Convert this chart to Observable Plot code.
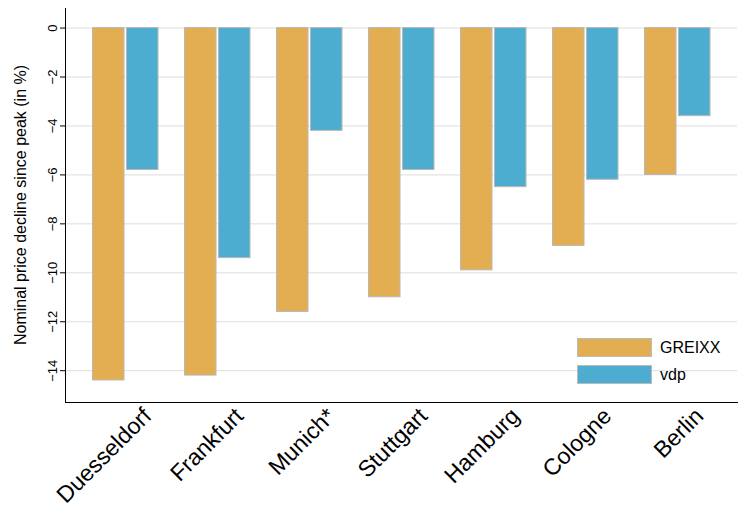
<!DOCTYPE html>
<html><head><meta charset="utf-8">
<script src="https://cdn.jsdelivr.net/npm/d3@7"></script>
<script src="https://cdn.jsdelivr.net/npm/@observablehq/plot@0.6"></script>
<style>
body{margin:0;background:#fff;font-family:"Liberation Sans",Arial,sans-serif}
#wrap{position:relative;width:745px;height:522px}
.lg{position:absolute;left:577px;font-size:16px;display:flex;align-items:center}
.lg span{display:inline-block;width:75px;height:19px;margin-right:8px;box-sizing:border-box;border:1px solid #bbb}
</style></head><body>
<div id="wrap"></div>
<script>
const cities = ["Duesseldorf","Frankfurt","Munich*","Stuttgart","Hamburg","Cologne","Berlin"];
const series = ["GREIXX","vdp"];
const greixx = [-14.4,-14.2,-11.6,-11.0,-9.9,-8.9,-6.0];
const vdp = [-5.8,-9.4,-4.2,-5.8,-6.5,-6.2,-3.6];
const colors = ["#e3ad52","#4cadd0"];
const yTicks = [0,-2,-4,-6,-8,-10,-12,-14];

const gData = cities.map((c,i)=>({city:c, value:greixx[i]}));
const vData = cities.map((c,i)=>({city:c, value:vdp[i]}));
const half = 34;

const chart = Plot.plot({
  width:745, height:522,
  marginLeft:65, marginRight:8, marginTop:8, marginBottom:120,
  style:{fontFamily:"Liberation Sans, Arial, sans-serif", fontSize:"13px", color:"#000"},
  x:{domain:cities, paddingInner:0.28, paddingOuter:0.28, label:null},
  y:{domain:[-15.3,0.8], label:null},
  marks:[
    Plot.gridY(yTicks,{stroke:"#ddd", strokeOpacity:1}),
    Plot.barY(gData,{x:"city", y:"value", fill:colors[0], stroke:"#b8b8b8", insetLeft:0.5, insetRight:half}),
    Plot.barY(vData,{x:"city", y:"value", fill:colors[1], stroke:"#b8b8b8", insetLeft:half+0.5, insetRight:0}),
    Plot.axisY({ticks:yTicks, tickRotate:-90, label:null, fontSize:13, tickSize:5}),
    Plot.axisX({tickRotate:-45, fontSize:23, tickSize:0, label:null, textAnchor:"end", dy:-2, dx:22}),
    Plot.frame({anchor:"left"}),
    Plot.frame({anchor:"bottom"})
  ]
});
const wrap = document.getElementById("wrap");
wrap.appendChild(chart);
const yl = document.createElement("div");
yl.textContent = "Nominal price decline since peak (in %)";
yl.style.cssText = "position:absolute;left:21px;top:205px;transform:translate(-50%,-50%) rotate(-90deg);font-size:16px;white-space:nowrap;";
wrap.appendChild(yl);
series.forEach((s,i)=>{
  const d=document.createElement("div");
  d.className="lg"; d.style.top=(338+i*27)+"px";
  d.innerHTML=`<span style="background:${colors[i]}"></span>${s}`;
  wrap.appendChild(d);
});
</script>
</body></html>
